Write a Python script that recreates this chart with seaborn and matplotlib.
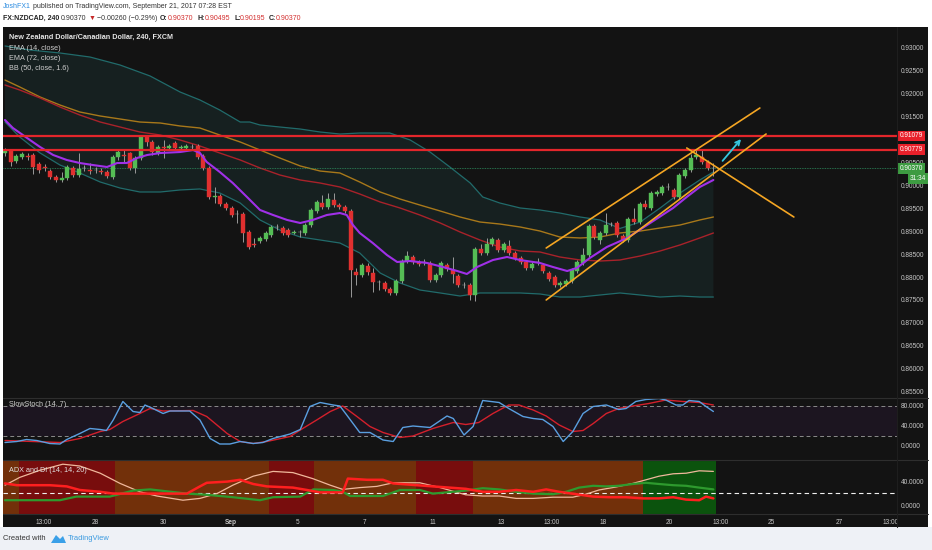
import numpy as np
import matplotlib
matplotlib.use('Agg')
import matplotlib.pyplot as plt
import matplotlib.transforms as mtransforms
from matplotlib.patches import Rectangle, Polygon
from matplotlib.lines import Line2D
import seaborn as sns

sns.set_theme(style='dark')
plt.rcParams['font.family'] = ['Liberation Sans', 'DejaVu Sans']

W, H = 932, 550

# candles FX:NZDCAD 240, one per 4h bar
opens = [0.90707, 0.90773, 0.90533, 0.90620, 0.90642, 0.90664, 0.90467, 0.90402, 0.90314, 0.90183,
         0.90118, 0.90162, 0.90380, 0.90227, 0.90380, 0.90336, 0.90336, 0.90314, 0.90293, 0.90183,
         0.90620, 0.90664, 0.90707, 0.90380, 0.90598, 0.91057, 0.90948, 0.90707, 0.90838, 0.90817,
         0.90926, 0.90817, 0.90817, 0.90838, 0.90860, 0.90642, 0.90380, 0.89747, 0.89769, 0.89594,
         0.89507, 0.89376, 0.89376, 0.88983, 0.88721, 0.88786, 0.88830, 0.88917, 0.89092, 0.89070,
         0.89026, 0.88961, 0.88983, 0.88961, 0.89135, 0.89441, 0.89616, 0.89528, 0.89681, 0.89572,
         0.89528, 0.89441, 0.88109, 0.88044, 0.88240, 0.88087, 0.87891, 0.87869, 0.87738, 0.87651,
         0.87913, 0.88349, 0.88437, 0.88328, 0.88328, 0.88306, 0.87935, 0.88044, 0.88262, 0.88153,
         0.88022, 0.87825, 0.87825, 0.87607, 0.88611, 0.88524, 0.88721, 0.88808, 0.88590, 0.88677,
         0.88524, 0.88415, 0.88328, 0.88197, 0.88328, 0.88262, 0.88087, 0.88000, 0.87825, 0.87847,
         0.87913, 0.88131, 0.88306, 0.88480, 0.89114, 0.88808, 0.88961, 0.89157, 0.89179, 0.88895,
         0.88808, 0.89266, 0.89201, 0.89594, 0.89507, 0.89812, 0.89834, 0.89965, 0.89900, 0.89747,
         0.90205, 0.90336, 0.90620, 0.90620, 0.90511, 0.90370]
closes = [0.90773, 0.90511, 0.90642, 0.90686, 0.90620, 0.90402, 0.90336, 0.90380, 0.90183, 0.90118,
          0.90162, 0.90402, 0.90227, 0.90358, 0.90380, 0.90314, 0.90336, 0.90293, 0.90205, 0.90620,
          0.90729, 0.90642, 0.90380, 0.90598, 0.91057, 0.90948, 0.90729, 0.90838, 0.90817, 0.90860,
          0.90817, 0.90838, 0.90860, 0.90838, 0.90620, 0.90380, 0.89747, 0.89769, 0.89594, 0.89507,
          0.89354, 0.89376, 0.88961, 0.88655, 0.88699, 0.88852, 0.88961, 0.89092, 0.89092, 0.88961,
          0.88917, 0.88983, 0.88983, 0.89135, 0.89463, 0.89638, 0.89528, 0.89703, 0.89572, 0.89528,
          0.89441, 0.88153, 0.88044, 0.88262, 0.88109, 0.87891, 0.87891, 0.87738, 0.87651, 0.87913,
          0.88349, 0.88459, 0.88328, 0.88284, 0.88328, 0.87935, 0.88044, 0.88306, 0.88175, 0.88066,
          0.87825, 0.87825, 0.87607, 0.88611, 0.88524, 0.88721, 0.88830, 0.88590, 0.88721, 0.88524,
          0.88415, 0.88328, 0.88197, 0.88284, 0.88328, 0.88131, 0.87956, 0.87825, 0.87869, 0.87913,
          0.88153, 0.88328, 0.88480, 0.89114, 0.88873, 0.88961, 0.89135, 0.89157, 0.88917, 0.88808,
          0.89266, 0.89201, 0.89594, 0.89528, 0.89834, 0.89856, 0.89965, 0.89965, 0.89747, 0.90227,
          0.90336, 0.90598, 0.90664, 0.90511, 0.90380, 0.90370]
highs = [0.90817, 0.90795, 0.90686, 0.90729, 0.90707, 0.90707, 0.90511, 0.90467, 0.90358, 0.90227,
         0.90293, 0.90445, 0.90424, 0.90707, 0.90445, 0.90489, 0.90402, 0.90380, 0.90336, 0.90664,
         0.90773, 0.90773, 0.90729, 0.90642, 0.91100, 0.91100, 0.90991, 0.90882, 0.90991, 0.90904,
         0.90969, 0.90882, 0.90904, 0.90904, 0.90904, 0.90686, 0.90424, 0.89965, 0.89812, 0.89638,
         0.89550, 0.89463, 0.89419, 0.89026, 0.88852, 0.88895, 0.89004, 0.89135, 0.89157, 0.89114,
         0.89070, 0.89026, 0.89026, 0.89179, 0.89507, 0.89681, 0.89790, 0.89834, 0.89834, 0.89616,
         0.89572, 0.89485, 0.88197, 0.88306, 0.88306, 0.88197, 0.87935, 0.87913, 0.87782, 0.87956,
         0.88393, 0.88568, 0.88480, 0.88371, 0.88393, 0.88349, 0.88087, 0.88349, 0.88306, 0.88437,
         0.88066, 0.87891, 0.87869, 0.88655, 0.88721, 0.88852, 0.88873, 0.88852, 0.88764, 0.88808,
         0.88568, 0.88459, 0.88371, 0.88328, 0.88415, 0.88306, 0.88131, 0.88044, 0.87913, 0.87956,
         0.88197, 0.88371, 0.88633, 0.89157, 0.89157, 0.89004, 0.89397, 0.89201, 0.89223, 0.88939,
         0.89310, 0.89507, 0.89638, 0.89681, 0.89878, 0.89900, 0.90009, 0.90052, 0.89943, 0.90271,
         0.90380, 0.90686, 0.90795, 0.90773, 0.90555, 0.90495]
lows = [0.90642, 0.90424, 0.90489, 0.90576, 0.90555, 0.90249, 0.90271, 0.90314, 0.90140, 0.90074,
        0.90074, 0.90118, 0.90183, 0.90183, 0.90314, 0.90249, 0.90271, 0.90249, 0.90162, 0.90140,
        0.90555, 0.90489, 0.90336, 0.90271, 0.90555, 0.90860, 0.90664, 0.90664, 0.90598, 0.90773,
        0.90773, 0.90773, 0.90773, 0.90773, 0.90576, 0.90336, 0.89703, 0.89616, 0.89550, 0.89463,
        0.89310, 0.89179, 0.88764, 0.88611, 0.88655, 0.88742, 0.88786, 0.88873, 0.89026, 0.88917,
        0.88873, 0.88939, 0.88873, 0.88917, 0.89092, 0.89397, 0.89485, 0.89485, 0.89528, 0.89485,
        0.89397, 0.87563, 0.87825, 0.88000, 0.88044, 0.87672, 0.87716, 0.87694, 0.87607, 0.87607,
        0.87869, 0.88306, 0.88284, 0.88240, 0.88262, 0.87891, 0.87891, 0.88000, 0.88131, 0.87869,
        0.87782, 0.87760, 0.87498, 0.87476, 0.88480, 0.88480, 0.88677, 0.88546, 0.88546, 0.88480,
        0.88371, 0.88284, 0.88153, 0.88153, 0.88262, 0.88087, 0.87913, 0.87782, 0.87782, 0.87804,
        0.87869, 0.88087, 0.88262, 0.88437, 0.88830, 0.88721, 0.88917, 0.89114, 0.88873, 0.88764,
        0.88764, 0.89157, 0.89157, 0.89485, 0.89463, 0.89769, 0.89790, 0.89900, 0.89703, 0.89703,
        0.90162, 0.90293, 0.90576, 0.90467, 0.90336, 0.90195]

# overlays (bar index, price)
ema14_x = [0, 1.4, 3.9, 6.2, 8.5, 10.9, 13.2, 15.5, 18.0, 19.8, 21.5, 23.3, 25.1, 27.4, 30.9,
           33.2, 34.4, 35.6, 37.9, 40.2, 42.7, 45.0, 47.3, 49.8, 52.1, 54.3, 56.8, 59.1, 60.3, 61.4,
           62.6, 64.9, 67.4, 69.2, 71.5, 74.5, 77.3, 79.8, 81.5, 83.3, 86.1, 88.6, 90.9, 94.4, 96.7,
           99.2, 100.9, 103.2, 106.2, 109.8, 113.3, 117.9, 120.3, 122.6, 125]
ema14 = [0.91428, 0.91253, 0.91035, 0.90838, 0.90664, 0.90555, 0.90489, 0.90445, 0.90402, 0.90489,
         0.90489, 0.90598, 0.90664, 0.90707, 0.90729, 0.90773, 0.90707, 0.90511, 0.90293, 0.90052,
         0.89747, 0.89463, 0.89354, 0.89245, 0.89179, 0.89245, 0.89354, 0.89397, 0.89354, 0.89135,
         0.88961, 0.88742, 0.88480, 0.88328, 0.88349, 0.88306, 0.88218, 0.88131, 0.88066, 0.88218,
         0.88371, 0.88437, 0.88371, 0.88306, 0.88218, 0.88131, 0.88197, 0.88415, 0.88655, 0.88852,
         0.89135, 0.89507, 0.89747, 0.89965, 0.90118]

band_x = [0, 2.6, 6.2, 9.7, 13.2, 16.8, 20.3, 23.8, 27.4, 30.9, 34.4, 37.9, 41.5, 45.0, 48.5,
          52.1, 55.6, 59.1, 62.6, 66.2, 69.7, 73.2, 76.8, 80.3, 83.8, 87.3, 90.9, 94.4, 97.9, 101.5,
          105.0, 108.5, 112.1, 115.6, 119.1, 122.6, 125]
ema72 = [0.92301, 0.92149, 0.91930, 0.91755, 0.91603, 0.91515, 0.91450, 0.91384, 0.91362, 0.91297,
         0.91253, 0.91100, 0.90948, 0.90773, 0.90598, 0.90424, 0.90314, 0.90271, 0.90074, 0.89856,
         0.89703, 0.89572, 0.89441, 0.89310, 0.89201, 0.89157, 0.89092, 0.89004, 0.88873, 0.88852,
         0.88873, 0.88961, 0.89004, 0.89070, 0.89135, 0.89245, 0.89310]
bb_basis = [0.92192, 0.92083, 0.91908, 0.91712, 0.91537, 0.91384, 0.91275, 0.91166, 0.91100, 0.90991,
            0.90860, 0.90707, 0.90555, 0.90380, 0.90227, 0.90118, 0.90052, 0.89965, 0.89812, 0.89638,
            0.89507, 0.89354, 0.89179, 0.88983, 0.88808, 0.88655, 0.88568, 0.88546, 0.88437, 0.88371,
            0.88349, 0.88371, 0.88459, 0.88568, 0.88699, 0.88852, 0.88961]
bb_lower = [0.91384, 0.91057, 0.90707, 0.90445, 0.90271, 0.90074, 0.89943, 0.89856, 0.89856, 0.89900,
            0.89922, 0.89834, 0.89616, 0.89245, 0.89026, 0.88873, 0.88808, 0.88742, 0.88524, 0.88087,
            0.87869, 0.87716, 0.87651, 0.87585, 0.87651, 0.87651, 0.87651, 0.87629, 0.87563, 0.87563,
            0.87607, 0.87651, 0.87607, 0.87563, 0.87585, 0.87563, 0.87563]
upper_x = [0, 4.4, 9.7, 15.0, 20.3, 25.6, 30.9, 34.4, 37.9, 41.5, 43.2, 45.0, 48.5, 52.1, 55.6,
           59.1, 62.6, 67.9, 71.5, 75.0, 78.5, 82.1, 84.3, 87.3, 90.9, 94.4, 97.9, 101.5, 105.0, 108.5,
           112.1, 115.6, 119.1, 122.6, 125]
bb_upper = [0.93044, 0.92956, 0.92891, 0.92803, 0.92629, 0.92389, 0.92039, 0.91865, 0.91646, 0.91384,
            0.91384, 0.91319, 0.91275, 0.91231, 0.91166, 0.91122, 0.91144, 0.91144, 0.90991, 0.90729,
            0.90402, 0.90052, 0.89747, 0.89616, 0.89507, 0.89463, 0.89397, 0.89310, 0.89245, 0.89060,
            0.89201, 0.89507, 0.89834, 0.90118, 0.90293]

resist_levels = [0.91079, 0.90779]
last_price = 0.90370
countdown = '31:34'

# hand-drawn trend lines: (bar, price) endpoints
chan_top = ([95.5, 133.2], [0.88633, 0.91690])
chan_bot = ([95.5, 134.3], [0.87498, 0.91122])
down_line = ([120.3, 139.2], [0.90817, 0.89310])
arrow_pts = ([126.3, 130.2], [0.90489, 0.91057])

# slow stochastic
stoch_k_x = [0, 2.1, 3.8, 5.6, 7.9, 9.7, 10.9, 13.2, 15.0, 16.8, 17.9, 19.1, 20.8, 22.6, 23.8,
             24.7, 26.1, 27.9, 29.1, 32.6, 34.4, 36.2, 37.9, 39.7, 41.5, 43.8, 45.5, 47.3, 50.3, 52.1,
             53.8, 55.6, 57.9, 59.1, 60.3, 62.6, 64.4, 66.7, 68.5, 70.2, 72.0, 75.0, 78.0, 79.1, 81.0,
             82.6, 84.3, 87.2, 88.9, 91.4, 93.2, 94.9, 96.7, 98.5, 100.2, 102.0, 103.8, 106.1, 108.3,
             109.6, 111.3, 113.1, 115.4, 116.6, 118.4, 119.6, 120.7, 122.5, 123.7, 125]
stoch_k = [7, 9, 13, 11, 5, 4, 13, 25, 35, 33, 31, 52, 89, 69, 67, 82, 75, 65, 70, 70,
           52, 15, 4, 4, 9, 5, 7, 15, 24, 33, 79, 87, 82, 80, 62, 27, 27, 12, 9, 37,
           40, 37, 60, 55, 22, 39, 91, 87, 75, 59, 55, 53, 39, 9, 29, 65, 79, 82, 73, 75,
           89, 93, 95, 92, 82, 82, 91, 89, 79, 69]
stoch_d_x = [0, 4.9, 9.7, 13.2, 16.8, 18.5, 20.8, 23.8, 25.6, 27.9, 33.2, 35.6, 39.2, 41.5, 43.8,
             46.2, 50.3, 52.1, 55.0, 57.4, 59.6, 62.1, 64.4, 66.7, 69.7, 72.0, 75.5, 79.1, 81.3, 83.6,
             86.1, 88.9, 90.7, 93.2, 95.5, 97.8, 100.2, 102.0, 103.8, 106.1, 108.3, 110.8, 113.6,
             116.6, 119.6, 122.5, 125]
stoch_d = [11, 9, 7, 15, 29, 33, 49, 65, 75, 70, 71, 59, 25, 9, 5, 9, 19, 32, 52, 69,
           80, 59, 39, 27, 17, 20, 35, 47, 43, 47, 65, 82, 82, 72, 60, 42, 29, 31, 45, 65,
           75, 80, 85, 92, 89, 87, 82]

# ADX and DI
adx_x = [0, 2.6, 6.2, 10.2, 13.2, 16.8, 20.3, 23.8, 26.8, 31.4, 34.4, 37.4, 40.2, 43.8, 47.3,
         50.8, 54.3, 57.4, 59.6, 62.6, 65.6, 68.5, 73.2, 76.8, 81.3, 84.3, 87.2, 90.2, 93.2, 96.7,
         100.2, 102.5, 104.8, 107.8, 110.8, 113.1, 115.4, 117.9, 120.2, 122.5, 125]
adx = [33, 46, 58, 68, 65, 53, 36, 22, 15, 8, 11, 19, 33, 48, 56, 54, 44, 33, 26, 29,
       31, 37, 37, 29, 17, 15, 15, 11, 11, 13, 13, 18, 25, 30, 36, 42, 48, 52, 53, 57, 56]
plus_di_x = [0, 2.6, 9.7, 12.6, 18.5, 22.6, 25.6, 32.1, 35.6, 40.2, 45.0, 47.3, 52.1, 54.4, 57.9,
             59.6, 60.9, 66.7, 69.7, 73.2, 75.5, 81.3, 84.3, 87.2, 90.2, 93.2, 96.7, 99.0, 101.3,
             103.8, 106.1, 108.3, 110.8, 113.1, 115.4, 117.9, 120.2, 122.5, 125]
plus_di = [8, 8, 8, 14, 14, 24, 26, 19, 17, 13, 8, 13, 14, 26, 25, 22, 15, 15, 25, 25,
           19, 24, 28, 26, 22, 19, 18, 22, 29, 32, 31, 32, 35, 37, 35, 33, 32, 29, 26]
minus_di_x = [0, 2.1, 7.9, 10.9, 13.2, 16.8, 19.1, 23.8, 32.1, 34.4, 35.6, 39.2, 41.5, 43.8, 46.2,
              50.8, 53.3, 55.6, 59.6, 60.5, 63.9, 66.7, 68.5, 72.7, 75.5, 81.3, 84.3, 87.2, 90.2,
              93.2, 95.5, 97.8, 100.8, 103.8, 106.6, 109.6, 112.6, 115.4, 117.9, 120.2, 122.5,
              123.7, 125]
minus_di = [36, 33, 33, 31, 25, 22, 19, 19, 19, 31, 37, 39, 42, 35, 31, 29, 25, 21, 21, 44,
            42, 42, 36, 33, 31, 27, 22, 22, 25, 22, 26, 22, 18, 14, 13, 13, 11, 11, 13, 9,
            8, 14, 11]
adx_edges = [-0.35, 2.5, 19.5, 46.5, 54.5, 72.5, 82.5, 112.5, 125.5]
adx_state = ['orange', 'red', 'orange', 'red', 'orange', 'red', 'orange', 'green']

# 0.91000 sits under the 0.91079 marker on the original, so it is not labelled
price_ticks = [0.93000, 0.92500, 0.92000, 0.91500, 0.90500, 0.90000, 0.89500,
               0.89000, 0.88500, 0.88000, 0.87500, 0.87000, 0.86500, 0.86000, 0.85500]
date_pos = [6.9, 15.9, 27.9, 39.9, 51.7, 63.5, 75.5, 87.5, 96.5, 105.5, 117.3, 126.3, 135.3, 147.3, 156.2]
date_labels = ['13:00', '28', '30', 'Sep', '5', '7', '11', '13', '13:00', '18', '20', '13:00', '25', '27', '13:00']

# colours
BG = '#131313'
TXT = '#c8c8c8'
UP, DOWN, FLAT, WICK = '#55bd55', '#e0302f', '#9a9a9a', '#9a9a9a'
STATE_COL = {'red': '#780d0d', 'orange': '#72300a', 'green': '#0b530d'}
ORANGE = '#f5a623'

fig = plt.figure(figsize=(W / 100, H / 100), dpi=100, facecolor='white')
fig.patches.append(Rectangle((3 / W, 1 - 527 / H), 925 / W, 500 / H, transform=fig.transFigure,
                             facecolor=BG, edgecolor='none', zorder=-10))
fig.patches.append(Rectangle((0, 0), 1, 23 / H, transform=fig.transFigure,
                             facecolor='#eef1f6', edgecolor='none', zorder=-10))


def panel(top, bottom):
    a = fig.add_axes([3 / W, 1 - bottom / H, 894 / W, (bottom - top) / H])
    a.set_facecolor(BG)
    for s in a.spines.values():
        s.set_visible(False)
    a.grid(False)
    a.set_xlim(-0.35, 157.4)
    a.yaxis.tick_right()
    a.tick_params(axis='both', length=0, labelsize=4.7, labelcolor=TXT, pad=3)
    a.set_xticks([])
    return a


ax = panel(27, 398)
ax_st = panel(398, 460)
ax_adx = panel(460, 514)

# ---- price panel ----
ax.set_ylim(0.853581, 0.934585)
bb_poly = Polygon(list(zip(upper_x, bb_upper)) + list(zip(band_x[::-1], bb_lower[::-1])),
                  closed=True, facecolor='#1f4444', edgecolor='none', alpha=0.28, zorder=1)
ax.add_patch(bb_poly)
sns.lineplot(x=upper_x, y=bb_upper, ax=ax, color='#216b6b', linewidth=0.9, zorder=2)
sns.lineplot(x=band_x, y=bb_lower, ax=ax, color='#216b6b', linewidth=0.9, zorder=2)
sns.lineplot(x=band_x, y=ema72, ax=ax, color='#a8781a', linewidth=1.0, zorder=2)
sns.lineplot(x=band_x, y=bb_basis, ax=ax, color='#a8222a', linewidth=1.0, zorder=2)

bars = np.arange(len(closes))
o = np.array(opens)
c = np.array(closes)
cols = [UP if cc > oo else (DOWN if cc < oo else FLAT) for oo, cc in zip(o, c)]
ax.vlines(bars, lows, highs, color=WICK, linewidth=0.7, zorder=3)
ax.bar(bars, np.maximum(np.abs(c - o), 0.00005), bottom=np.minimum(o, c), width=0.68,
       color=cols, edgecolor=cols, linewidth=0.3, zorder=4)

sns.lineplot(x=ema14_x, y=ema14, ax=ax, color='#a030e8', linewidth=1.5, zorder=5)

ax.axhline(last_price, color='#2f8f60', linewidth=0.6, linestyle=(0, (1, 1)), zorder=2)
for lvl in resist_levels:
    ax.axhline(lvl, color='#e3262b', linewidth=1.6, zorder=6)

for xs, ys in (chan_top, chan_bot, down_line):
    ax.plot(xs, ys, color=ORANGE, linewidth=1.2, zorder=7)
ax.annotate('', xy=(arrow_pts[0][1], arrow_pts[1][1]), xytext=(arrow_pts[0][0], arrow_pts[1][0]),
            arrowprops=dict(arrowstyle='->', color='#35c7e0', lw=1.3, mutation_scale=8), zorder=8)

ax.set_yticks(price_ticks)
ax.set_yticklabels([f'{v:.5f}' for v in price_ticks])
ax.set(xlabel='', ylabel='')

trans = mtransforms.blended_transform_factory(ax.transAxes, ax.transData)
for lvl in resist_levels:
    ax.text(1.003, lvl, f'{lvl:.5f}', transform=trans, ha='left', va='center', fontsize=4.7,
            color='white', zorder=10, clip_on=False,
            bbox=dict(boxstyle='square,pad=0.3', fc='#e8202a', ec='none'))
ax.text(1.003, last_price, f'{last_price:.5f}', transform=trans, ha='left', va='center', fontsize=4.7,
        color='white', zorder=10, clip_on=False,
        bbox=dict(boxstyle='square,pad=0.3', fc='#3d9b41', ec='none'))
ax.annotate(countdown, xy=(1.0 + 29 / 894, last_price), xycoords=trans, xytext=(0, -7.3),
            textcoords='offset points', ha='right', va='center', fontsize=4.7, color='white',
            zorder=10, annotation_clip=False,
            bbox=dict(boxstyle='square,pad=0.3', fc='#3d9b41', ec='none'))

ax.text(6 / 894, (398 - 37) / 371, 'New Zealand Dollar/Canadian Dollar, 240, FXCM', transform=ax.transAxes,
        fontsize=5.2, color='#e6e6e6', fontweight='bold', va='center', ha='left')
for i, lab in enumerate(['EMA (14, close)', 'EMA (72, close)', 'BB (50, close, 1.6)']):
    ax.text(6 / 894, (398 - 48 - 10.5 * i) / 371, lab, transform=ax.transAxes,
            fontsize=5.2, color='#cfcfcf', va='center', ha='left')

# ---- slow stochastic ----
ax_st.set_ylim(-28, 96)
ax_st.axhspan(20, 80, color='#1c1520', zorder=0, linewidth=0)
for lvl in (80, 20):
    ax_st.axhline(lvl, color='#8a8a8a', linewidth=0.7, linestyle=(0, (4, 3)), zorder=1)
sns.lineplot(x=stoch_d_x, y=stoch_d, ax=ax_st, color='#d4202c', linewidth=1.0, zorder=3)
sns.lineplot(x=stoch_k_x, y=stoch_k, ax=ax_st, color='#5a9fe0', linewidth=1.0, zorder=4)
ax_st.set_yticks([80, 40, 0])
ax_st.set_yticklabels(['80.0000', '40.0000', '0.0000'])
ax_st.set(xlabel='', ylabel='')
ax_st.text(6 / 894, (460 - 405) / 62, 'SlowStoch (14, 7)', transform=ax_st.transAxes,
           fontsize=5.2, color='#cfcfcf', va='center', ha='left')

# ---- ADX and DI ----
ax_adx.set_ylim(-15, 75)
for x0, x1, st in zip(adx_edges[:-1], adx_edges[1:], adx_state):
    ax_adx.axvspan(x0, x1, color=STATE_COL[st], linewidth=0, zorder=0)
ax_adx.axhline(20, color='#f0f0f0', linewidth=0.8, linestyle=(0, (4, 3)), zorder=1)
sns.lineplot(x=adx_x, y=adx, ax=ax_adx, color='#f0b89c', linewidth=0.9, zorder=3)
sns.lineplot(x=plus_di_x, y=plus_di, ax=ax_adx, color='#2e9a2e', linewidth=1.6, zorder=4)
sns.lineplot(x=minus_di_x, y=minus_di, ax=ax_adx, color='#ff1f1f', linewidth=1.8, zorder=5)
ax_adx.set_yticks([40, 0])
ax_adx.set_yticklabels(['40.0000', '0.0000'])
ax_adx.set(xlabel='', ylabel='')
ax_adx.text(6 / 894, (514 - 471) / 54, 'ADX and DI (14, 14, 20)', transform=ax_adx.transAxes,
            fontsize=5.2, color='#e0e0e0', va='center', ha='left')
ax_adx.set_xticks(date_pos)
ax_adx.set_xticklabels(date_labels)
ax_adx.tick_params(axis='x', length=0, pad=3.6, labelsize=4.7, labelcolor=TXT)
ax_adx.get_xticklabels()[date_labels.index('Sep')].set_fontweight('bold')

# separators
for yp in (398, 460, 514):
    fig.add_artist(Line2D([3 / W, 928 / W], [1 - yp / H] * 2, color='#2e2e2e', linewidth=0.8))
fig.add_artist(Line2D([897 / W] * 2, [1 - 527 / H, 1 - 27 / H], color='#1e1e1e', linewidth=0.8))

# header
HFS = 5.0
fig.text(3 / W, 1 - 7 / H, 'JoshFX1', color='#2a8be0', fontsize=HFS, va='center')
fig.text(33 / W, 1 - 7 / H, 'published on TradingView.com, September 21, 2017 07:28 EST',
         color='#333333', fontsize=HFS, va='center')
hdr = [(3, 'FX:NZDCAD, 240', '#222222', 'bold'), (61, '0.90370', '#333333', 'normal'),
       (88.5, '\u25bc', '#c62828', 'normal'), (97, '\u22120.00260 (\u22120.29%)', '#333333', 'normal'),
       (160, 'O:', '#222222', 'bold'), (168, '0.90370', '#d32f2f', 'normal'),
       (197, 'H:', '#222222', 'bold'), (205, '0.90495', '#d32f2f', 'normal'),
       (234, 'L:', '#222222', 'bold'), (240, '0.90195', '#d32f2f', 'normal'),
       (269, 'C:', '#222222', 'bold'), (276, '0.90370', '#d32f2f', 'normal')]
for xp, s, col, wt in hdr:
    fig.text(xp / W, 1 - 18 / H, s, color=col, fontsize=HFS, fontweight=wt, va='center',
             family=['Liberation Sans', 'DejaVu Sans'])

# footer
fig.text(3 / W, 1 - 539 / H, 'Created with', color='#333333', fontsize=5.4, va='center')
fig.patches.append(Polygon([(51 / W, 1 - 543 / H), (56 / W, 1 - 535 / H), (60 / W, 1 - 539 / H),
                            (63 / W, 1 - 536 / H), (66 / W, 1 - 543 / H)], closed=True,
                           transform=fig.transFigure, facecolor='#3aa0e8', edgecolor='none'))
fig.text(68 / W, 1 - 539 / H, 'TradingView', color='#3a9ae0', fontsize=5.4, va='center')

fig.savefig('out.png', dpi=100, facecolor=fig.get_facecolor())
